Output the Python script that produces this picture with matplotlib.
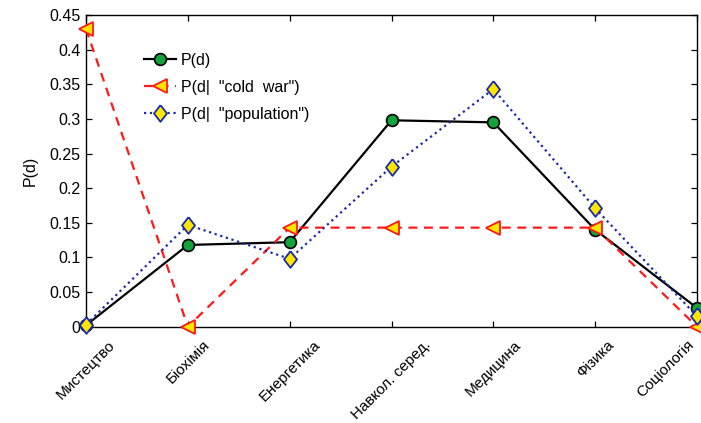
import matplotlib
matplotlib.use("Agg")
import matplotlib.pyplot as plt

plt.rcParams['font.family'] = ['Liberation Sans', 'DejaVu Sans']

categories = ['Мистецтво', 'Біохімія', 'Енергетика', 'Навкол. серед.', 'Медицина', 'Фізика', 'Соціологія']
p_d = [0.002, 0.118, 0.122, 0.298, 0.295, 0.140, 0.027]
p_cold_war = [0.43, 0.0, 0.143, 0.143, 0.143, 0.143, 0.0]
p_population = [0.003, 0.147, 0.098, 0.231, 0.343, 0.171, 0.015]
y_ticks = [0, 0.05, 0.1, 0.15, 0.2, 0.25, 0.3, 0.35, 0.4, 0.45]
y_tick_labels = ['0', '0.05', '0.1', '0.15', '0.2', '0.25', '0.3', '0.35', '0.4', '0.45']

fig = plt.figure(figsize=(7.01, 4.23), dpi=100)
ax = fig.add_axes([0.1227, 0.2277, 0.8716, 0.7368])

diamond = [(0, 1), (0.78, 0), (0, -1), (-0.78, 0), (0, 1)]

x = list(range(len(categories)))
ax.plot(x, p_d, '-', color='black', lw=1.6, marker='o', ms=8.5,
        mfc='#12a33c', mec='black', mew=1.2, label='P(d)', clip_on=False, zorder=3)
ax.plot(x, p_cold_war, '--', color='#ff1a1a', lw=1.6, dashes=(4, 3), marker='<', ms=9.5,
        mfc='#ffe600', mec='#ff1a1a', mew=1.3, label='P(d|  "cold  war")', clip_on=False, zorder=4)
ax.plot(x, p_population, ':', color='#1a2aa8', lw=1.6, marker=diamond, ms=12,
        mfc='#ffe600', mec='#1a2aa8', mew=1.3, label='P(d|  "population")', clip_on=False, zorder=5)

ax.set_xlim(0, 6)
ax.set_ylim(0, 0.45)
ax.set_yticks(y_ticks)
ax.set_yticklabels(y_tick_labels, fontsize=11.5)
ax.set_xticks(x)
ax.set_xticklabels(categories, rotation=45, ha='center', fontsize=11)
ax.get_xticklabels()[-1].set_horizontalalignment('right')
ax.tick_params(direction='in', top=True, right=True, length=4, width=0.9, pad=4)
ax.tick_params(axis='x', pad=8)
for s in ax.spines.values():
    s.set_linewidth(1.0)
ax.set_ylabel('P(d)', fontsize=11.5, labelpad=8)

ax.legend(loc='upper left', bbox_to_anchor=(0.085, 0.90), frameon=False, fontsize=11.5,
          handlelength=2.0, handletextpad=0.3, labelspacing=0.75, borderaxespad=0)

fig.savefig('out.png', dpi=100)
